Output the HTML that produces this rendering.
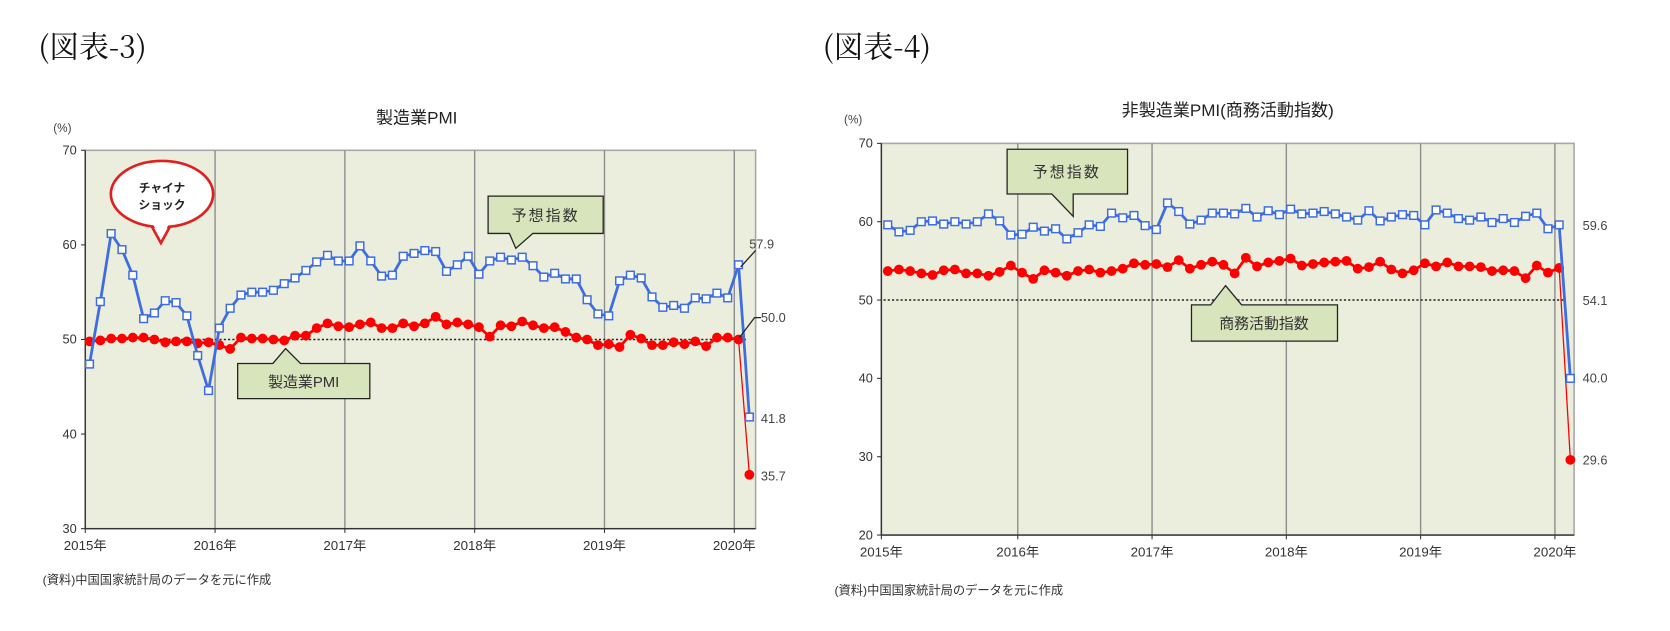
<!DOCTYPE html>
<html><head><meta charset="utf-8">
<style>
html,body{margin:0;padding:0;background:#fff;}
svg{display:block;}
text{font-family:"Liberation Sans","Noto Sans CJK JP",sans-serif;}
.serif{font-family:"Noto Serif CJK SC","Liberation Serif",serif;}
</style></head>
<body>
<svg id="root" width="1670" height="631" viewBox="0 0 1567 592" xmlns="http://www.w3.org/2000/svg">
<text class="serif" x="36" y="54" font-size="28" fill="#111">(図表-3)</text>
<text class="serif" x="772" y="54" font-size="28" fill="#111">(図表-4)</text>
<g id="c1"></g>
<g id="c2"></g>
</svg>
<script>
// ---- data (Jan 2015 - Feb 2020) ----
const yearLabels = ["2015年","2016年","2017年","2018年","2019年","2020年"];
const mfgPMI = [49.8,49.9,50.1,50.1,50.2,50.2,50.0,49.7,49.8,49.8,49.6,49.7,
 49.4,49.0,50.2,50.1,50.1,50.0,49.9,50.4,50.4,51.2,51.7,51.4,
 51.3,51.6,51.8,51.2,51.2,51.7,51.4,51.7,52.4,51.6,51.8,51.6,
 51.3,50.3,51.5,51.4,51.9,51.5,51.2,51.3,50.8,50.2,50.0,49.4,
 49.5,49.2,50.5,50.1,49.4,49.4,49.7,49.5,49.8,49.3,50.2,50.2,
 50.0,35.7];
const mfgExpect = [47.4,54.0,61.2,59.5,56.8,52.2,52.8,54.1,53.9,52.5,48.3,44.6,
 51.2,53.3,54.7,55.0,55.0,55.2,55.9,56.5,57.3,58.2,58.9,58.3,
 58.3,59.9,58.3,56.7,56.8,58.8,59.1,59.4,59.3,57.2,57.9,58.8,
 56.9,58.3,58.7,58.4,58.7,57.8,56.6,57.0,56.4,56.4,54.2,52.7,
 52.5,56.2,56.8,56.5,54.5,53.4,53.6,53.3,54.4,54.3,54.9,54.4,
 57.9,41.8];
const nonMfg = [53.7,53.9,53.7,53.4,53.2,53.8,53.9,53.4,53.4,53.1,53.6,54.4,
 53.5,52.7,53.8,53.5,53.1,53.7,53.9,53.5,53.7,54.0,54.7,54.5,
 54.6,54.2,55.1,54.0,54.5,54.9,54.5,53.4,55.4,54.3,54.8,55.0,
 55.3,54.4,54.6,54.8,54.9,55.0,54.0,54.2,54.9,53.9,53.4,53.8,
 54.7,54.3,54.8,54.3,54.3,54.2,53.7,53.8,53.7,52.8,54.4,53.5,
 54.1,29.6];
const nonMfgExpect = [59.6,58.7,58.9,60.0,60.1,59.7,60.0,59.7,60.0,61.0,60.1,58.3,
 58.4,59.3,58.8,59.1,57.8,58.6,59.6,59.4,61.1,60.5,60.8,59.5,
 59.0,62.4,61.3,59.7,60.2,61.1,61.1,61.0,61.7,60.6,61.4,60.9,
 61.6,61.0,61.1,61.3,61.0,60.6,60.2,61.4,60.1,60.6,60.9,60.8,
 59.6,61.5,61.1,60.4,60.2,60.6,59.9,60.4,59.9,60.7,61.1,59.1,
 59.6,40.0];
const ticks1 = [30,40,50,60,70];
const ticks2 = [20,30,40,50,60,70];

const NS="http://www.w3.org/2000/svg";
function mk(parent,tag,attrs,text){const e=document.createElementNS(NS,tag);for(const k in attrs)e.setAttribute(k,attrs[k]);if(text!==undefined)e.textContent=text;parent.appendChild(e);return e;}

function drawChart(g,cfg){
  const xs=i=>cfg.x0+i*cfg.step;
  const ys=v=>cfg.yTop+(cfg.yMax-v)/(cfg.yMax-cfg.yMin)*(cfg.yBot-cfg.yTop);
  const bg=mk(g,'rect',{x:cfg.left,y:cfg.yTop,width:cfg.right-cfg.left,height:cfg.yBot-cfg.yTop,fill:'#ebeedd',stroke:'#a8a8a8','stroke-width':1.5});
  
  
  for(let k=1;k<6;k++){
    const x=xs(12*k)-4;
    const l=mk(g,'line',{x1:x,y1:cfg.yTop,x2:x,y2:cfg.yBot,stroke:'#8c8c8c','stroke-width':1.3});
    
    
  }
  const ax=mk(g,'line',{x1:cfg.left,y1:cfg.yTop,x2:cfg.left,y2:cfg.yBot,stroke:'#333','stroke-width':1.3});
  
  
  const bx=mk(g,'line',{x1:cfg.left,y1:cfg.yBot,x2:cfg.right,y2:cfg.yBot,stroke:'#333','stroke-width':1.3});
  
  
  cfg.ticks.forEach(t=>{
    const y=ys(t);
    mk(g,'line',{x1:cfg.left-4,y1:y,x2:cfg.left,y2:y,stroke:'#333'});
    const tl=mk(g,'text',{x:cfg.left-8,y:y+4,'font-size':12,'text-anchor':'end',fill:'#333'},t);
    
    
  });
  yearLabels.forEach((lab,k)=>{
    const x=k===0?cfg.left:xs(12*k)-4;
    mk(g,'line',{x1:x,y1:cfg.yBot,x2:x,y2:cfg.yBot+4,stroke:'#333'});
    const tl=mk(g,'text',{x:x,y:cfg.yBot+20,'font-size':12.5,'text-anchor':'middle',fill:'#333'},lab);
    
    
  });
  const ref=mk(g,'line',{x1:cfg.left+2,y1:ys(50),x2:cfg.right-8,y2:ys(50),stroke:'#222','stroke-width':1.4,'stroke-dasharray':'2,2'});
  
  
  function series(vals,color,marker,name){
    const n=vals.length;
    let d='';for(let i=0;i<n-1;i++)d+=(i?'L':'M')+xs(i)+','+ys(vals[i]);
    const p=mk(g,'path',{d:d,fill:'none',stroke:color,'stroke-width':2.6,'stroke-linejoin':'round'});
    
    
    const last=mk(g,'line',{x1:xs(n-2),y1:ys(vals[n-2]),x2:xs(n-1),y2:ys(vals[n-1]),stroke:color,'stroke-width':marker==='sq'?2.6:1.2});
    
    
    for(let i=0;i<n;i++){
      let m;
      if(marker==='sq') m=mk(g,'rect',{x:xs(i)-3.6,y:ys(vals[i])-3.6,width:7.2,height:7.2,fill:'#fff',stroke:'#3d6de0','stroke-width':1.4});
      else m=mk(g,'circle',{cx:xs(i),cy:ys(vals[i]),r:4.6,fill:'#ff0000'});
      
      
    }
    return {x:xs(n-1),y:ys(vals[n-1]),x2:xs(n-2),y2:ys(vals[n-2])};
  }
  const a=series(cfg.red,'#ff0000','ci',cfg.redName);
  const b=series(cfg.blue,'#3d6de0','sq',cfg.blueName);
  return {xs,ys,a,b};
}

// ---- chart 1 ----
const g1=document.getElementById('c1');
const t1=mk(g1,'text',{x:391,y:116,'font-size':16,'text-anchor':'middle',fill:'#222'},'製造業PMI');


const u1=mk(g1,'text',{x:50,y:124,'font-size':11,fill:'#444'},'(%)');


const r1=drawChart(g1,{left:80,right:709,x0:84,step:10.15,yTop:141,yBot:496,yMin:30,yMax:70,ticks:ticks1,red:mfgPMI,blue:mfgExpect,redName:'manufacturing-pmi',blueName:'expectation-index'});
let c=mk(g1,'path',{d:'M140,208 L151,228 L162,208 Z',fill:'#fff',stroke:'#e02020','stroke-width':2.5});
c=mk(g1,'ellipse',{cx:152,cy:182,rx:48,ry:31,fill:'#fff',stroke:'#e02020','stroke-width':2.5});


mk(g1,'path',{d:'M142,207 L151,225 L160,207 Z',fill:'#fff',stroke:'none'});
mk(g1,'text',{x:152,y:180,'font-size':11,'text-anchor':'middle',fill:'#222','font-weight':'bold'},'チャイナ');
mk(g1,'text',{x:152,y:196,'font-size':11,'text-anchor':'middle',fill:'#222','font-weight':'bold'},'ショック');
c=mk(g1,'path',{d:'M458,184 L566,184 L566,219 L500,219 L484,233 L478,219 L458,219 Z',fill:'#d8e4bc',stroke:'#222','stroke-width':1.2});


mk(g1,'text',{x:512,y:207,'font-size':14,'text-anchor':'middle',fill:'#333','letter-spacing':'2'},'予想指数');
c=mk(g1,'path',{d:'M223,341 L256,341 L268,327 L282,341 L347,341 L347,374 L223,374 Z',fill:'#d8e4bc',stroke:'#222','stroke-width':1.2});


mk(g1,'text',{x:285,y:363,'font-size':14,'text-anchor':'middle',fill:'#333'},'製造業PMI');
mk(g1,'line',{x1:r1.b.x2+2,y1:r1.b.y2+2,x2:709,y2:235,stroke:'#222','stroke-width':1.2});
mk(g1,'text',{x:703,y:233,'font-size':12,fill:'#444'},'57.9');
mk(g1,'path',{d:`M${r1.a.x2+1},${r1.a.y2-2} L708,298 L714,298`,fill:'none',stroke:'#222','stroke-width':1.2});
mk(g1,'text',{x:714,y:302,'font-size':12,fill:'#444'},'50.0');
mk(g1,'text',{x:714,y:397,'font-size':12,fill:'#444'},'41.8');
mk(g1,'text',{x:714,y:451,'font-size':12,fill:'#444'},'35.7');
const f1=mk(g1,'text',{x:40,y:548,'font-size':11.5,fill:'#333'},'(資料)中国国家統計局のデータを元に作成');



// ---- chart 2 ----
const g2=document.getElementById('c2');
const t2=mk(g2,'text',{x:1152,y:109,'font-size':16,'text-anchor':'middle',fill:'#222'},'非製造業PMI(商務活動指数)');


const u2=mk(g2,'text',{x:792,y:116,'font-size':11,fill:'#444'},'(%)');


const r2=drawChart(g2,{left:827,right:1477,x0:833,step:10.5,yTop:134.5,yBot:502,yMin:20,yMax:70,ticks:ticks2,red:nonMfg,blue:nonMfgExpect,redName:'business-activity-index',blueName:'expectation-index'});
c=mk(g2,'path',{d:'M945,140 L1058,140 L1058,182 L1007,182 L1007,203 L987,182 L945,182 Z',fill:'#d8e4bc',stroke:'#222','stroke-width':1.2});


mk(g2,'text',{x:1001,y:166,'font-size':14,'text-anchor':'middle',fill:'#333','letter-spacing':'2'},'予想指数');
c=mk(g2,'path',{d:'M1118,286 L1136,286 L1150,268 L1165,286 L1255,286 L1255,320 L1118,320 Z',fill:'#d8e4bc',stroke:'#222','stroke-width':1.2});


mk(g2,'text',{x:1186,y:308,'font-size':14,'text-anchor':'middle',fill:'#333'},'商務活動指数');
mk(g2,'text',{x:1485,y:216,'font-size':12,fill:'#444'},'59.6');
mk(g2,'text',{x:1485,y:286,'font-size':12,fill:'#444'},'54.1');
mk(g2,'text',{x:1485,y:359,'font-size':12,fill:'#444'},'40.0');
mk(g2,'text',{x:1485,y:436,'font-size':12,fill:'#444'},'29.6');
const f2=mk(g2,'text',{x:783,y:558,'font-size':11.5,fill:'#333'},'(資料)中国国家統計局のデータを元に作成');


</script>
</body></html>
